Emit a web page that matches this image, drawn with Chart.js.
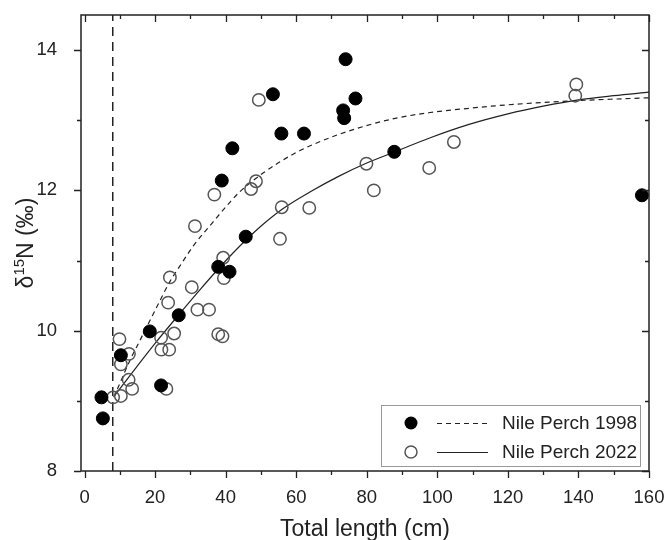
<!DOCTYPE html>
<html>
<head>
<meta charset="utf-8">
<script src="https://cdn.jsdelivr.net/npm/chart.js@4"></script>
<style>
  html, body { margin: 0; padding: 0; background: #fff; }
</style>
</head>
<body>
<canvas id="chart" width="667" height="540"></canvas>
<script>
// Nile Perch 1998 - filled circles
const perch1998X = [4.8, 5.2, 10.3, 18.5, 21.7, 26.7, 37.9, 41.1, 38.9, 41.9, 45.7, 53.4, 55.8, 62.2, 74.0, 76.8, 73.3, 73.6, 87.8, 158.0];
const perch1998Y = [9.05, 8.75, 9.65, 9.99, 9.22, 10.22, 10.91, 10.84, 12.14, 12.60, 11.34, 13.37, 12.81, 12.81, 13.87, 13.31, 13.14, 13.03, 12.55, 11.93];

// Nile Perch 2022 - open circles
const perch2022X = [8.1, 10.3, 13.5, 12.5, 10.3, 12.6, 9.9, 23.2, 21.8, 24.0, 21.7, 25.4, 37.9, 39.1, 23.7, 24.2, 30.4, 32.0, 35.3, 39.5, 39.3, 31.3, 36.8, 47.2, 48.6, 49.4, 55.9, 55.4, 63.7, 79.9, 82.0, 97.7, 104.7, 139.1, 139.4];
const perch2022Y = [9.05, 9.07, 9.17, 9.30, 9.52, 9.67, 9.88, 9.17, 9.73, 9.73, 9.90, 9.96, 9.95, 9.92, 10.40, 10.76, 10.62, 10.30, 10.30, 10.75, 11.04, 11.49, 11.94, 12.02, 12.13, 13.29, 11.76, 11.31, 11.75, 12.38, 12.00, 12.32, 12.69, 13.35, 13.51];

// growth curves
const fit1998X = [8.3, 9.6, 12.9, 15.7, 20.4, 24.2, 27, 31, 35.6, 41.2, 44, 50.7, 60, 69.5, 79, 88.4, 98, 109, 120, 140, 160];
const fit1998Y = [9.05, 9.2, 9.58, 9.86, 10.33, 10.70, 10.92, 11.22, 11.50, 11.83, 11.98, 12.25, 12.54, 12.75, 12.91, 13.03, 13.11, 13.17, 13.22, 13.28, 13.32];
const fit2022X = [8.3, 15, 20, 26.6, 33, 41, 48, 56, 64, 72, 80, 88, 98, 109, 120, 130, 140, 150, 160];
const fit2022Y = [9.06, 9.50, 9.82, 10.22, 10.60, 11.05, 11.40, 11.73, 11.98, 12.20, 12.39, 12.55, 12.75, 12.94, 13.09, 13.20, 13.29, 13.35, 13.40];

// vertical dashed marker
const markerX = [8, 8];
const markerY = [8, 14.5];

// axis ticks
const xTicks = [0, 20, 40, 60, 80, 100, 120, 140, 160];
const xMinor = [10, 30, 50, 70, 90, 110, 130, 150];
const yTicks = [8, 10, 12, 14];
const yMinor = [9, 11, 13];

const pts = (xs, ys) => xs.map((x, i) => ({x: x, y: ys[i]}));
const FONT = "'Liberation Sans', Arial, sans-serif";
const INK = '#222';

const framePlugin = {
  id: 'frame',
  afterDatasetsDraw(chart) {
    const {ctx, chartArea: a, scales: {x, y}} = chart;
    ctx.save();
    ctx.strokeStyle = INK;
    ctx.lineWidth = 1.5;
    ctx.strokeRect(a.left, a.top, a.right - a.left, a.bottom - a.top);
    ctx.lineWidth = 1.3;
    ctx.beginPath();
    const tx = (v, len) => {
      const p = Math.round(x.getPixelForValue(v)) + 0.5;
      ctx.moveTo(p, a.bottom); ctx.lineTo(p, a.bottom + len);
      ctx.moveTo(p, a.top); ctx.lineTo(p, a.top + len);
    };
    const ty = (v, len) => {
      const p = Math.round(y.getPixelForValue(v)) + 0.5;
      ctx.moveTo(a.left, p); ctx.lineTo(a.left - len, p);
      ctx.moveTo(a.right, p); ctx.lineTo(a.right - len, p);
    };
    xTicks.forEach(v => tx(v, 7));
    xMinor.forEach(v => tx(v, 4));
    yTicks.forEach(v => ty(v, 7));
    yMinor.forEach(v => ty(v, 4));
    ctx.stroke();
    ctx.restore();
  },
  afterDraw(chart) {
    const {ctx, chartArea: a} = chart;
    ctx.save();
    ctx.fillStyle = INK;
    // x title
    ctx.font = '23px ' + FONT;
    ctx.textAlign = 'center';
    ctx.textBaseline = 'alphabetic';
    ctx.fillText('Total length (cm)', (a.left + a.right) / 2, 536);
    // y title with superscript
    ctx.translate(33, (a.top + a.bottom) / 2);
    ctx.rotate(-Math.PI / 2);
    const big = '23px ' + FONT, small = '15px ' + FONT;
    ctx.font = big; const w1 = ctx.measureText('\u03b4').width;
    ctx.font = small; const w2 = ctx.measureText('15').width;
    ctx.font = big; const w3 = ctx.measureText('N (\u2030)').width;
    let sx = -(w1 + w2 + w3) / 2;
    ctx.textAlign = 'left';
    ctx.fillText('\u03b4', sx, 0); sx += w1;
    ctx.font = small; ctx.fillText('15', sx, -9); sx += w2;
    ctx.font = big; ctx.fillText('N (\u2030)', sx, 0);
    ctx.restore();

    // legend box
    ctx.save();
    ctx.strokeStyle = '#999';
    ctx.lineWidth = 1;
    ctx.strokeRect(381.5, 405.5, 259, 61);
    const rows = [
      {label: 'Nile Perch 1998', filled: true, dash: [5, 4], y: 423},
      {label: 'Nile Perch 2022', filled: false, dash: [], y: 452}
    ];
    ctx.font = '19px ' + FONT;
    ctx.textBaseline = 'middle';
    rows.forEach(r => {
      ctx.beginPath();
      ctx.arc(411, r.y, r.filled ? 6.5 : 6, 0, Math.PI * 2);
      if (r.filled) { ctx.fillStyle = '#000'; ctx.fill(); }
      else { ctx.strokeStyle = '#555'; ctx.lineWidth = 1.5; ctx.stroke(); }
      ctx.beginPath();
      ctx.setLineDash(r.dash);
      ctx.strokeStyle = '#222'; ctx.lineWidth = 1.2;
      ctx.moveTo(437, r.y + 0.5); ctx.lineTo(488, r.y + 0.5);
      ctx.stroke();
      ctx.setLineDash([]);
      ctx.fillStyle = INK;
      ctx.fillText(r.label, 502, r.y + 1);
    });
    ctx.restore();
  }
};

new Chart(document.getElementById('chart'), {
  type: 'scatter',
  data: {
    datasets: [
      {
        label: 'Nile Perch 1998',
        data: pts(perch1998X, perch1998Y),
        backgroundColor: '#000', borderColor: '#000', borderWidth: 1,
        pointRadius: 6.5, order: 0
      },
      {
        label: 'Nile Perch 2022',
        data: pts(perch2022X, perch2022Y),
        backgroundColor: 'rgba(0,0,0,0)', borderColor: '#555', borderWidth: 1.5,
        pointRadius: 6.2, order: 1
      },
      {
        label: 'fit 1998',
        data: pts(fit1998X, fit1998Y),
        showLine: true, pointRadius: 0, borderColor: '#222', borderWidth: 1.2,
        borderDash: [5, 4], cubicInterpolationMode: 'monotone', order: 2
      },
      {
        label: 'fit 2022',
        data: pts(fit2022X, fit2022Y),
        showLine: true, pointRadius: 0, borderColor: '#222', borderWidth: 1.2,
        cubicInterpolationMode: 'monotone', order: 2
      },
      {
        label: 'marker',
        data: pts(markerX, markerY),
        showLine: true, pointRadius: 0, borderColor: '#222', borderWidth: 1.5,
        borderDash: [9, 6], order: 3
      }
    ]
  },
  options: {
    responsive: false,
    animation: false,
    events: [],
    layout: { padding: { top: 15, right: 18, left: 0, bottom: 0 } },
    plugins: { legend: { display: false }, tooltip: { enabled: false } },
    scales: {
      x: {
        type: 'linear', min: -1, max: 160,
        grid: { display: false },
        border: { display: false },
        afterBuildTicks: s => { s.ticks = xTicks.map(v => ({value: v})); },
        afterFit: s => { s.height = 69; s.paddingLeft = 0; s.paddingRight = 0; },
        ticks: { color: INK, font: { family: FONT, size: 18.5 }, padding: 8, maxRotation: 0 }
      },
      y: {
        type: 'linear', min: 8, max: 14.5,
        grid: { display: false },
        border: { display: false },
        afterBuildTicks: s => { s.ticks = yTicks.map(v => ({value: v})); },
        afterFit: s => { s.width = 81; s.paddingTop = 0; s.paddingBottom = 0; },
        ticks: { color: INK, font: { family: FONT, size: 18.5 }, padding: 16 }
      }
    }
  },
  plugins: [framePlugin]
});
</script>
</body>
</html>
